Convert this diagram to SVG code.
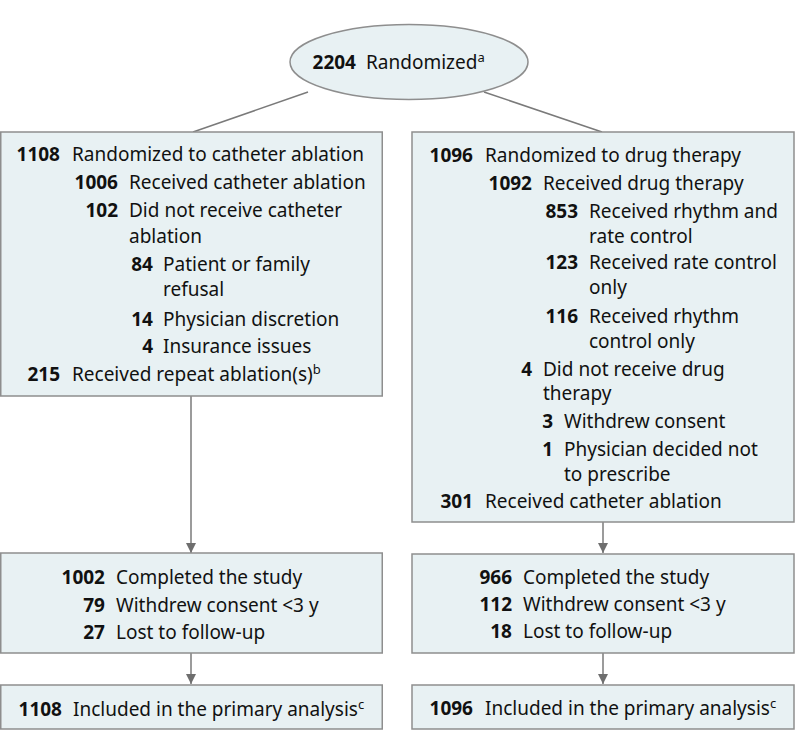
<svg xmlns="http://www.w3.org/2000/svg" width="798" height="749" viewBox="0 0 798 749">
<defs>
<style>
.box{fill:#e8f1f3;stroke:#8e8e8e;stroke-width:1.5}
.t{font-family:"Noto Sans","Liberation Sans",sans-serif;font-size:19px;fill:#111111}
.n{font-weight:bold;text-anchor:end}
.sup{font-size:13px}
.c{stroke:#7a7a7a;stroke-width:1.5;fill:none}
</style>
<marker id="ah" viewBox="0 0 10 10" refX="10" refY="5" markerWidth="10" markerHeight="10" markerUnits="userSpaceOnUse" orient="auto">
<path d="M0,0 L10,5 L0,10 Z" fill="#6e6e6e"/>
</marker>
</defs>
<rect width="798" height="749" fill="#ffffff"/>
<g id="connectors">
<line class="c" x1="308" y1="92" x2="193" y2="132"/>
<line class="c" x1="484" y1="92" x2="602" y2="132"/>
<line class="c" x1="191" y1="396" x2="191" y2="553" marker-end="url(#ah)"/>
<line class="c" x1="191" y1="653" x2="191" y2="684" marker-end="url(#ah)"/>
<line class="c" x1="603" y1="522" x2="603" y2="553" marker-end="url(#ah)"/>
<line class="c" x1="603" y1="653" x2="603" y2="684" marker-end="url(#ah)"/>
</g>
<g id="randomized">
<ellipse class="box" cx="409" cy="62" rx="119" ry="37.5"/>
<text class="t n" x="356" y="69">2204</text>
<text class="t" x="366" y="69">Randomized<tspan class="sup" dy="-7">a</tspan></text>
</g>
<g id="ablation-arm">
<rect class="box" x="0.75" y="132" width="381.5" height="264"/>
<text class="t n" x="60" y="161">1108</text><text class="t" x="72" y="161">Randomized to catheter ablation</text>
<text class="t n" x="118" y="189">1006</text><text class="t" x="129" y="189">Received catheter ablation</text>
<text class="t n" x="118" y="217">102</text><text class="t" x="129" y="217">Did not receive catheter</text>
<text class="t" x="129" y="243">ablation</text>
<text class="t n" x="153" y="271">84</text><text class="t" x="163" y="271">Patient or family</text>
<text class="t" x="163" y="296">refusal</text>
<text class="t n" x="153" y="326">14</text><text class="t" x="163" y="326">Physician discretion</text>
<text class="t n" x="153" y="353">4</text><text class="t" x="163" y="353">Insurance issues</text>
<text class="t n" x="60" y="381">215</text><text class="t" x="72" y="381">Received repeat ablation(s)<tspan class="sup" dy="-7">b</tspan></text>
</g>
<g id="drug-arm">
<rect class="box" x="412" y="132" width="382" height="390"/>
<text class="t n" x="473" y="162">1096</text><text class="t" x="485" y="162">Randomized to drug therapy</text>
<text class="t n" x="532" y="190">1092</text><text class="t" x="543" y="190">Received drug therapy</text>
<text class="t n" x="578" y="218">853</text><text class="t" x="589" y="218">Received rhythm and</text>
<text class="t" x="589" y="243">rate control</text>
<text class="t n" x="578" y="269">123</text><text class="t" x="589" y="269">Received rate control</text>
<text class="t" x="589" y="294">only</text>
<text class="t n" x="578" y="323">116</text><text class="t" x="589" y="323">Received rhythm</text>
<text class="t" x="589" y="348">control only</text>
<text class="t n" x="532" y="376">4</text><text class="t" x="543" y="376">Did not receive drug</text>
<text class="t" x="543" y="400">therapy</text>
<text class="t n" x="553" y="428">3</text><text class="t" x="564" y="428">Withdrew consent</text>
<text class="t n" x="553" y="456">1</text><text class="t" x="564" y="456">Physician decided not</text>
<text class="t" x="564" y="481">to prescribe</text>
<text class="t n" x="473" y="508">301</text><text class="t" x="485" y="508">Received catheter ablation</text>
</g>
<g id="ablation-followup">
<rect class="box" x="0.75" y="553" width="381.5" height="100"/>
<text class="t n" x="105" y="584">1002</text><text class="t" x="116" y="584">Completed the study</text>
<text class="t n" x="105" y="612">79</text><text class="t" x="116" y="612">Withdrew consent &lt;3 y</text>
<text class="t n" x="105" y="639">27</text><text class="t" x="116" y="639">Lost to follow-up</text>
</g>
<g id="drug-followup">
<rect class="box" x="412" y="554" width="382" height="99"/>
<text class="t n" x="512" y="584">966</text><text class="t" x="523" y="584">Completed the study</text>
<text class="t n" x="512" y="611">112</text><text class="t" x="523" y="611">Withdrew consent &lt;3 y</text>
<text class="t n" x="512" y="638">18</text><text class="t" x="523" y="638">Lost to follow-up</text>
</g>
<g id="ablation-analysis">
<rect class="box" x="0.75" y="685" width="381.5" height="44"/>
<text class="t n" x="62" y="716">1108</text><text class="t" x="73" y="716">Included in the primary analysis<tspan class="sup" dy="-7">c</tspan></text>
</g>
<g id="drug-analysis">
<rect class="box" x="412" y="685" width="382" height="44"/>
<text class="t n" x="473" y="715">1096</text><text class="t" x="485" y="715">Included in the primary analysis<tspan class="sup" dy="-7">c</tspan></text>
</g>
</svg>
